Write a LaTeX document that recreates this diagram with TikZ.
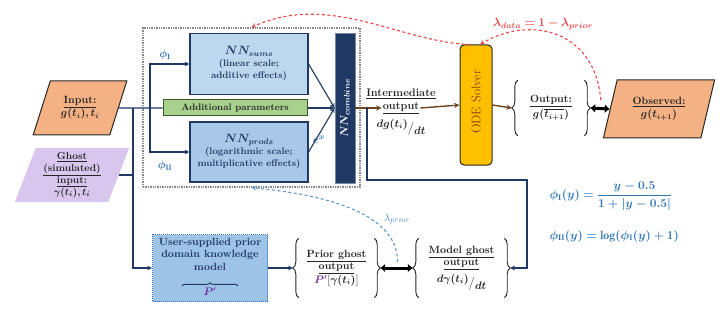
\documentclass[tikz,border=0pt]{standalone}
\usepackage{amsmath}
\usepackage{bm}
\usepackage{fontspec}
\usetikzlibrary{arrows.meta,positioning,calc,shapes.geometric,decorations.pathreplacing}
\definecolor{Ink}{HTML}{262626}
\definecolor{Navy}{HTML}{1F3864}
\definecolor{SumsFill}{HTML}{BDD7EE}
\definecolor{ProdsFill}{HTML}{A9C8E8}
\definecolor{ParamFill}{HTML}{A9D18E}
\definecolor{ParamEdge}{HTML}{3A5A26}
\definecolor{Salmon}{HTML}{F4B183}
\definecolor{GhostFill}{HTML}{D8C6EE}
\definecolor{Gold}{HTML}{FFC000}
\definecolor{Rust}{HTML}{843C0C}
\definecolor{Flow}{HTML}{6B4423}
\definecolor{Accent}{HTML}{2E75B6}
\definecolor{Loss}{HTML}{E8474A}
\definecolor{Prior}{HTML}{7030A0}
\definecolor{PriorFill}{HTML}{9DC3E6}

\begin{document}
\begin{tikzpicture}[x=1pt,y=-1pt,>=stealth,
  nnbox/.style={draw=Navy,line width=1.2pt,minimum width=118,minimum height=61,inner sep=0pt,align=center,text=Navy,font=\fontsize{9.5}{12}\selectfont\bfseries},
  para/.style={trapezium,trapezium stretches=true,inner sep=0pt,align=center,text=Ink,font=\fontsize{10.5}{12.5}\selectfont\bfseries},
  bracebox/.style={inner sep=0pt,align=center,text=Ink,font=\fontsize{10.5}{12.5}\selectfont\bfseries},
  curly/.style={draw=Ink,line width=0.9pt,decorate,decoration={brace,amplitude=6pt}},
  wire/.style={draw=Navy,line width=1.1pt},
  flow/.style={draw=Flow,line width=1.4pt},
  thickboth/.style={draw=black,line width=3pt,{Latex[length=5pt,width=9pt]}-{Latex[length=5pt,width=9pt]}},
  lossdash/.style={draw=Loss,line width=1.1pt,dash pattern=on 3pt off 2.5pt},
  priordash/.style={draw=Accent!75,line width=1.1pt,dash pattern=on 3pt off 2.5pt},
  bluelabel/.style={text=Accent,font=\fontsize{11}{12}\selectfont}]
\useasboundingbox (0,0) rectangle (720,310);

\node[draw=Ink!55,densely dotted,line width=1.4pt,minimum width=217,minimum height=159,inner sep=0pt] (frame) at (251.5,107.5) {};
\node[nnbox,fill=SumsFill] (sums) at (249,64) {{\fontsize{11.5}{14}\selectfont$\bm{NN_{sums}}$}\\(linear scale;\\additive effects)};
\node[nnbox,fill=ProdsFill,minimum height=60] (prods) at (249,152) {{\fontsize{11.5}{14}\selectfont$\bm{NN_{prods}}$}\\(logarithmic scale;\\multiplicative effects)};
\node[draw=ParamEdge,line width=1pt,fill=ParamFill,minimum width=144,minimum height=16,inner sep=0pt,text=Ink,font=\fontsize{9.5}{11}\selectfont\bfseries] (addp) at (235,108) {Additional parameters};
\node[draw=Navy!60,line width=0.8pt,fill=Navy,minimum width=20,minimum height=150,inner sep=0pt] (comb) at (345,108) {};
\node[rotate=90,text=white,font=\fontsize{11}{13}\selectfont] (combtext) at (comb.center) {$\bm{NN_{combine}}$};

\node[para,fill=Salmon,draw=Ink,line width=1pt,trapezium left angle=65,trapezium right angle=115,minimum width=94,minimum height=54] (input) at (80,108) {\underline{Input:}\\[1pt]$\bm{g(t_i), t_i}$};
\node[para,fill=GhostFill,trapezium left angle=70,trapezium right angle=110,minimum width=115,minimum height=54,font=\fontsize{10}{12}\selectfont\bfseries] (ghost) at (72,175) {\underline{Ghost}\\\underline{(simulated)}\\\underline{input:}\\$\bm{\gamma(t_i), t_i}$};

\node[font=\fontsize{11}{12}\selectfont\bfseries,text=Ink,inner sep=1pt] (interout) at (401,108) {\underline{output}};
\node[above=1pt of interout,font=\fontsize{11}{12}\selectfont\bfseries,text=Ink,inner sep=1pt] (intertop) {\underline{Intermediate}};
\node[below=3pt of interout,font=\fontsize{10.5}{12}\selectfont,text=Ink,inner sep=1pt] (interfrac) {$\bm{dg(t_i)}\raisebox{-4pt}{$\bm{\big/}$}\raisebox{-7pt}{$\bm{dt}$}$};

\node[draw=Ink,line width=1pt,fill=Gold,rounded corners=4pt,minimum width=32,minimum height=120,inner sep=0pt] (ode) at (476,105) {};
\node[rotate=90,text=Rust,font=\fontsize{12.5}{14}\selectfont] (odetext) at ([shift={(0,-3)}]ode.center) {ODE Solver};

\node[bracebox,minimum width=66,minimum height=55] (outbr) at (551,108) {\underline{Output:}\\[1pt]$\bm{g(\overline{t_{i+1}})}$};
\node[para,fill=Salmon,draw=Ink,line width=1pt,trapezium left angle=70,trapezium right angle=110,minimum width=112,minimum height=58] (observed) at (659,109) {\underline{Observed:}\\[1pt]$\bm{g(t_{i+1})}$};

\node[draw=Accent,densely dotted,line width=1pt,fill=PriorFill,minimum width=115,minimum height=67,inner sep=0pt,align=center,text=Navy,font=\fontsize{10.5}{12.5}\selectfont\bfseries] (priormodel) at (210,268) {User-supplied prior\\domain knowledge\\model\\[12pt]\strut};
\node[text=Prior,inner sep=1pt,font=\fontsize{10.5}{12}\selectfont] (priorsym) at (210,292) {$\bm{P'}$};
\draw[curly,draw=Navy,decoration={brace,amplitude=3pt}] ([shift={(-28,-1)}]priorsym.north) -- ([shift={(28,-1)}]priorsym.north);
\node[bracebox,minimum width=75,minimum height=59] (priorgh) at (336.5,268) {\underline{Prior ghost}\\\underline{output}\\[1pt]$\textcolor{Prior}{\bm{P'}}[\bm{\gamma(t_i)}]$};
\node[bracebox,minimum width=85,minimum height=59] (modelgh) at (461.5,268) {\underline{Model ghost}\\\underline{output}\\[4pt]$\bm{d\gamma(t_i)}\raisebox{-4pt}{$\bm{\big/}$}\raisebox{-7pt}{$\bm{dt}$}$};

\node[bluelabel] (phiI) at (165,55) {$\bm{\phi_{\mathrm{I}}}$};
\node[bluelabel] (phiII) at (165,166) {$\bm{\phi_{\mathrm{II}}}$};
\node[bluelabel] (expx) at (319,140) {$\bm{e^x}$};
\node[text=Accent!85,font=\fontsize{11}{12}\selectfont] (lamprior) at (397,219) {$\lambda_{prior}$};
\node[text=Loss,font=\fontsize{12}{13}\selectfont] (lamdata) at (543,24) {$\bm{\lambda_{data} = 1 - \lambda_{prior}}$};
\node[bluelabel,font=\fontsize{12}{13}\selectfont,anchor=west] (phiIeq) at (546,196) {$\bm{\phi_{\mathrm{I}}(y) = \dfrac{y-0.5}{1+|y-0.5|}}$};
\node[bluelabel,font=\fontsize{12}{13}\selectfont,anchor=west] (phiIIeq) at (546,236) {$\bm{\phi_{\mathrm{II}}(y) = \log(\phi_{\mathrm{I}}(y)+1)}$};

\coordinate (drop) at (133,108);
\coordinate (split) at (150,108);
\coordinate (tap) at (367,108);
\coordinate (bend) at (527,180);
\draw[wire] (input.east) -- (addp.west);
\draw[wire,->] (split) |- (sums.west);
\draw[wire,->] (split) |- (prods.west);
\draw[wire] (ghost.east) -- (ghost.east -| drop);
\draw[wire,->] (drop) |- (priormodel.west);
\draw[wire,->] (sums.east) -- (comb.west);
\draw[wire,->] (addp.east) -- (comb.west);
\draw[wire,->] (prods.east) -- (comb.west);
\draw[flow,->] (comb.east) -- (interout.west);
\draw[flow,->] (interout.east) -- (ode.west);
\draw[flow,->] (ode.east) -- ([xshift=-6pt]outbr.west);
\draw[wire,->] (tap) |- (bend) |- ([xshift=6pt]modelgh.east);
\draw[wire,->] (priormodel.east) -- ([xshift=-6pt]priorgh.west);
\draw[thickboth] ([xshift=6pt]outbr.east) -- (observed.west);
\draw[thickboth] ([xshift=6pt]priorgh.east) -- ([xshift=-6pt]modelgh.west);

\draw[curly] (outbr.south west) -- (outbr.north west);
\draw[curly] (outbr.north east) -- (outbr.south east);
\draw[curly] (priorgh.south west) -- (priorgh.north west);
\draw[curly] (priorgh.north east) -- (priorgh.south east);
\draw[curly] (modelgh.south west) -- (modelgh.north west);
\draw[curly] (modelgh.north east) -- (modelgh.south east);

\draw[lossdash,->] ([shift={(-9,-9)}]observed.west) .. controls (595,30) and (530,15) .. ([xshift=4pt]ode.north);
\draw[lossdash,->] ([xshift=-6pt]ode.north) .. controls (400,42) and (330,-8) .. (frame.north);
\draw[priordash,->] ($(priorgh.east)!0.5!(modelgh.west)+(1,-6)$) .. controls (398,215) and (330,195) .. (frame.south);
\end{tikzpicture}
\end{document}
